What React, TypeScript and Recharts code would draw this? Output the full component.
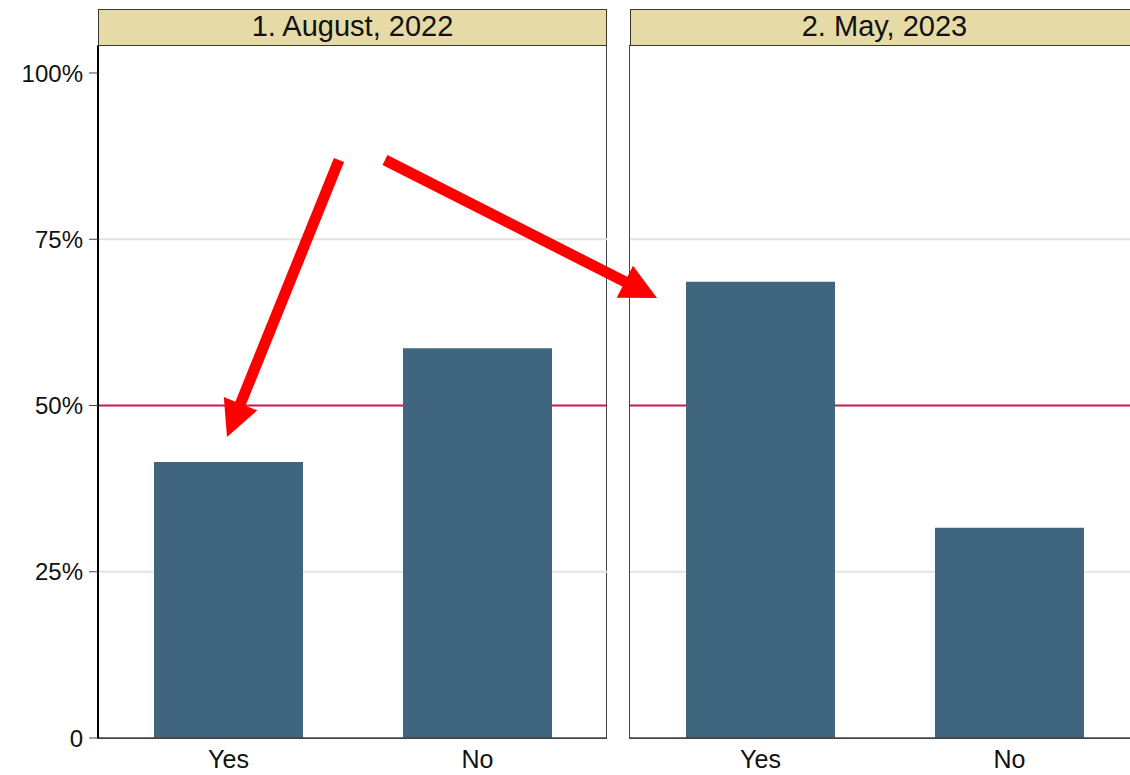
import React from "react";
import { BarChart, Bar, XAxis, YAxis, CartesianGrid } from "recharts";

// survey shares, percent
const categories = ["Yes", "No"];
const aug2022 = [41.5, 58.6];
const may2023 = [68.6, 31.6];
const panelTitles = ["1. August, 2022", "2. May, 2023"];
const yTicks = [0, 25, 50, 75, 100];
const gridValues = [25, 75];
const refValue = 50;

const FONT = "'Liberation Sans', Arial, Helvetica, sans-serif";
const BAR = "#40657F";
const FRAME = "#444444";

// annotation arrows (page pixels): start -> tip
const arrows = [
  { x1: 339, y1: 160, x2: 227, y2: 437 },
  { x1: 385, y1: 160, x2: 657, y2: 298 },
];

const toRows = (vals: number[]) => categories.map((c, i) => ({ cat: c, value: vals[i] }));

const Arrow = ({ x1, y1, x2, y2 }: { x1: number; y1: number; x2: number; y2: number }) => {
  const len = Math.hypot(x2 - x1, y2 - y1);
  const ux = (x2 - x1) / len;
  const uy = (y2 - y1) / len;
  const head = 36;
  const half = 18;
  const bx = x2 - ux * head;
  const by = y2 - uy * head;
  const pts = `${x2},${y2} ${bx - uy * half},${by + ux * half} ${bx + uy * half},${by - ux * half}`;
  return (
    <g>
      <line x1={x1} y1={y1} x2={bx + ux * 2} y2={by + uy * 2} stroke="#FF0000" strokeWidth={11} />
      <polygon points={pts} fill="#FF0000" />
    </g>
  );
};

const Header = ({ left, title }: { left: number; title: string }) => (
  <div
    style={{
      position: "absolute",
      left,
      top: 9,
      width: 509,
      height: 37,
      boxSizing: "border-box",
      background: "#E6DAA6",
      border: "1.5px solid #3a3826",
      fontFamily: FONT,
      fontSize: 29,
      lineHeight: "33px",
      textAlign: "center",
      color: "#111",
    }}
  >
    {title}
  </div>
);

// plot frame drawn behind the chart svg
const Frame = ({ left }: { left: number }) => (
  <div
    style={{
      position: "absolute",
      left,
      top: 45,
      width: 510,
      height: 694,
      boxSizing: "border-box",
      border: `1.5px solid ${FRAME}`,
    }}
  />
);

const Panel = ({ left, width, vals, first }: { left: number; width: number; vals: number[]; first: boolean }) => (
  <div style={{ position: "absolute", left, top: 45 }}>
    <BarChart
      width={width}
      height={730}
      data={toRows(vals)}
      margin={{ top: 1, right: 1, bottom: 7, left: first ? 0 : 1 }}
      barCategoryGap={0}
    >
      <CartesianGrid vertical={false} horizontalValues={gridValues} stroke="#E3E3E3" strokeWidth={2} />
      <CartesianGrid vertical={false} horizontalValues={[refValue]} stroke="#C8184A" strokeWidth={2} />
      <XAxis
        dataKey="cat"
        height={30}
        padding={{ left: 6, right: 5 }}
        axisLine={{ stroke: FRAME, strokeWidth: 1.5 }}
        tickLine={false}
        tickSize={0}
        tickMargin={12}
        tick={{ fill: "#111", fontSize: 25, fontFamily: FONT }}
      />
      <YAxis
        domain={[0, 104.06]}
        ticks={yTicks}
        width={first ? 98 : 1}
        allowDataOverflow
        tickFormatter={(v: number) => (first ? (v === 0 ? "0" : `${v}%`) : "")}
        axisLine={first ? { stroke: "#000", strokeWidth: 2 } : false}
        tick={{ fill: "#111", fontSize: 24, fontFamily: FONT }}
        tickLine={first ? { stroke: FRAME } : false}
        tickSize={9}
        tickMargin={6}
      />
      <Bar dataKey="value" fill={BAR} barSize={149} isAnimationActive={false} />
    </BarChart>
  </div>
);

export default function App() {
  return (
    <div
      style={{
        position: "absolute",
        left: 0,
        top: 0,
        width: 1130,
        height: 775,
        overflow: "hidden",
        background: "#fff",
      }}
    >
      <Frame left={97} />
      <Frame left={629} />
      <Header left={98} title={panelTitles[0]} />
      <Header left={630} title={panelTitles[1]} />
      <Panel left={0} width={608} vals={aug2022} first />
      <Panel left={628} width={512} vals={may2023} first={false} />
      <svg width={1130} height={775} style={{ position: "absolute", left: 0, top: 0, pointerEvents: "none" }}>
        {arrows.map((a, i) => (
          <Arrow key={i} {...a} />
        ))}
      </svg>
    </div>
  );
}
